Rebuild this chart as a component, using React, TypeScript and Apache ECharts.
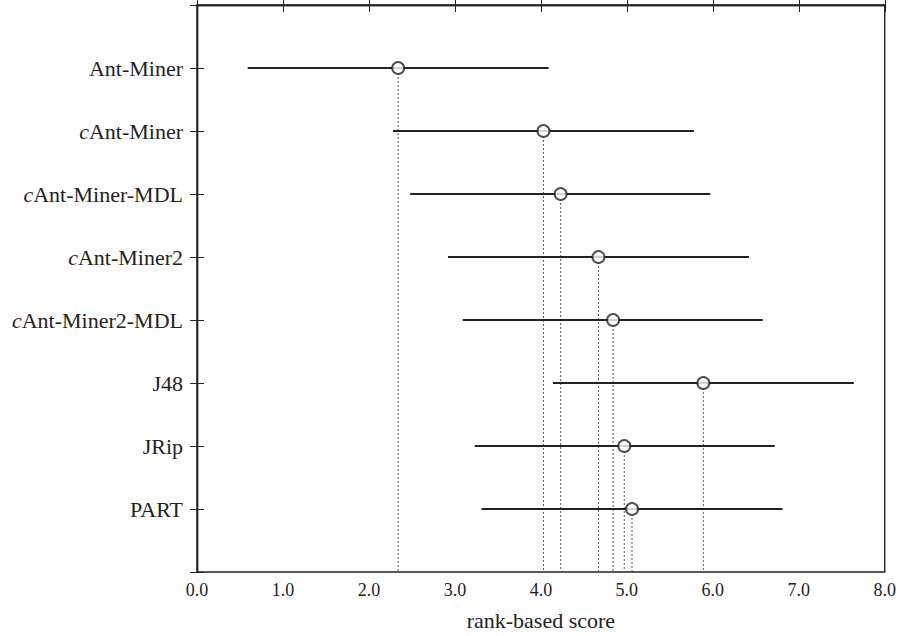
import React, { useEffect, useRef } from "react";
import * as echarts from "echarts";

const categories = [
  "Ant-Miner",
  "cAnt-Miner",
  "cAnt-Miner-MDL",
  "cAnt-Miner2",
  "cAnt-Miner2-MDL",
  "J48",
  "JRip",
  "PART",
];
const italicPrefix = [false, true, true, true, true, false, false, false];
const means = [2.34, 4.03, 4.23, 4.67, 4.84, 5.89, 4.97, 5.06];
const lows = [0.59, 2.28, 2.48, 2.92, 3.09, 4.14, 3.23, 3.31];
const highs = [4.09, 5.78, 5.97, 6.42, 6.58, 7.64, 6.72, 6.81];
const xTicks = [0, 1, 2, 3, 4, 5, 6, 7, 8];

const FONT = "'Liberation Serif', 'DejaVu Serif', serif";

export default function App() {
  const ref = useRef<HTMLDivElement>(null);
  useEffect(() => {
    const chart = echarts.init(ref.current!, undefined, { renderer: "svg" });
    const rows = categories.map((c, i) => [means[i], lows[i], highs[i], i + 1]);
    const yLabel = (v: number) => {
      const i = Math.round(v) - 1;
      if (i < 0 || i >= categories.length || Math.abs(v - Math.round(v)) > 1e-6) return "";
      const name = categories[i];
      return italicPrefix[i] ? "{i|c}{n|" + name.slice(1) + "}" : "{n|" + name + "}";
    };
    chart.setOption({
      animation: false,
      backgroundColor: "#fff",
      grid: {
        left: 197,
        right: 12,
        top: 5,
        bottom: 63,
        show: true,
        borderColor: "#222",
        borderWidth: 1.4,
        backgroundColor: "transparent",
      },
      xAxis: [
        {
          type: "value",
          min: 0,
          max: 8,
          interval: 1,
          position: "bottom",
          name: "rank-based score",
          nameLocation: "middle",
          nameGap: 37,
          nameTextStyle: { fontFamily: FONT, fontSize: 22, color: "#222" },
          axisLine: { show: true, lineStyle: { color: "#222", width: 1.4 } },
          axisTick: { show: true, inside: true, length: 7, lineStyle: { color: "#222" } },
          axisLabel: {
            fontFamily: FONT,
            fontSize: 18,
            color: "#222",
            margin: 9,
            formatter: (v: number) => (xTicks.includes(v) ? v.toFixed(1) : ""),
          },
          splitLine: { show: false },
        },
        {
          type: "value",
          min: 0,
          max: 8,
          interval: 1,
          position: "top",
          axisLine: { show: true, lineStyle: { color: "#222", width: 1.4 } },
          axisTick: { show: true, inside: true, length: 7, lineStyle: { color: "#222" } },
          axisLabel: { show: false },
          splitLine: { show: false },
        },
      ],
      yAxis: [
        {
          type: "value",
          min: 0,
          max: 9,
          interval: 1,
          inverse: true,
          position: "left",
          axisLine: { show: true, lineStyle: { color: "#222", width: 1.4 } },
          axisTick: { show: true, inside: true, length: 7, lineStyle: { color: "#222" } },
          axisLabel: {
            fontFamily: FONT,
            fontSize: 22,
            color: "#222",
            margin: 14,
            formatter: yLabel,
            rich: {
              i: { fontFamily: FONT, fontSize: 22, fontStyle: "italic", color: "#222" },
              n: { fontFamily: FONT, fontSize: 22, color: "#222" },
            },
          },
          splitLine: { show: false },
        },
        {
          type: "value",
          min: 0,
          max: 9,
          interval: 1,
          inverse: true,
          position: "right",
          axisLine: { show: true, lineStyle: { color: "#222", width: 1.4 } },
          axisTick: { show: true, inside: true, length: 7, lineStyle: { color: "#222" } },
          axisLabel: { show: false },
          splitLine: { show: false },
        },
      ],
      series: [
        {
          type: "custom",
          xAxisIndex: 0,
          yAxisIndex: 0,
          data: rows,
          encode: { x: [0, 1, 2], y: 3 },
          renderItem: (params: any, api: any) => {
            const m = api.value(0);
            const lo = api.value(1);
            const hi = api.value(2);
            const y = api.value(3);
            const a = api.coord([lo, y]);
            const b = api.coord([hi, y]);
            const c = api.coord([m, y]);
            const d = api.coord([m, 9]);
            return {
              type: "group",
              children: [
                {
                  type: "line",
                  shape: { x1: c[0], y1: c[1] + 5, x2: d[0], y2: d[1] },
                  style: { stroke: "#555", lineWidth: 1, lineDash: [2, 2] },
                },
                {
                  type: "line",
                  shape: { x1: a[0], y1: a[1], x2: b[0], y2: b[1] },
                  style: { stroke: "#222", lineWidth: 2 },
                },
              ],
            };
          },
          z: 2,
        },
        {
          type: "scatter",
          xAxisIndex: 0,
          yAxisIndex: 0,
          data: means.map((m, i) => [m, i + 1]),
          symbol: "circle",
          symbolSize: 12,
          itemStyle: { color: "#fff", borderColor: "#222", borderWidth: 2 },
          z: 3,
        },
      ],
    });
    return () => chart.dispose();
  }, []);
  return (
    <div
      ref={ref}
      style={{ position: "absolute", left: 0, top: 0, width: 899, height: 636 }}
    />
  );
}
